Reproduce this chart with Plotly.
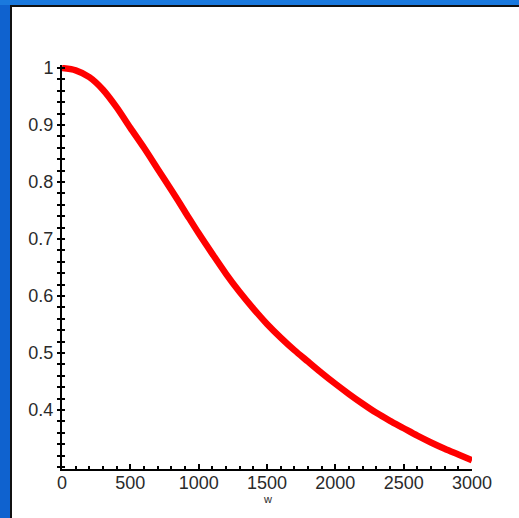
import plotly.graph_objects as go

# Sampled curve values
w = [0, 100, 200, 300, 400, 500, 600, 700, 800, 900, 1000,
     1100, 1200, 1300, 1400, 1500, 1600, 1700, 1800, 1900, 2000,
     2100, 2200, 2300, 2400, 2500, 2600, 2700, 2800, 2900, 3000]
response = [1.000, 0.996, 0.984, 0.962, 0.931, 0.895, 0.860, 0.823, 0.786, 0.748, 0.710,
            0.674, 0.639, 0.607, 0.578, 0.551, 0.527, 0.505, 0.485, 0.465, 0.446,
            0.428, 0.411, 0.395, 0.381, 0.368, 0.355, 0.343, 0.332, 0.322, 0.312]

x_ticks = [0, 500, 1000, 1500, 2000, 2500, 3000]
y_ticks = [0.4, 0.5, 0.6, 0.7, 0.8, 0.9, 1.0]
y_tick_text = ["0.4", "0.5", "0.6", "0.7", "0.8", "0.9", "1"]

W, H = 519, 518
L, R, T, B = 62, 47, 65, 49
PW, PH = W - L - R, H - T - B
Y_RANGE = [0.2965, 1.0053]


def px(x):
    return (x - L) / PW


def py(y):
    return (H - B - y) / PH


fig = go.Figure()
fig.add_trace(go.Scatter(
    x=w, y=response, mode="lines",
    line=dict(color="#ff0000", width=6.5, shape="spline", smoothing=0.8),
    cliponaxis=False, showlegend=False, hoverinfo="skip",
))
# hidden copy on the overlay axis so its inner tick marks are drawn
fig.add_trace(go.Scatter(
    x=w, y=response, yaxis="y2", mode="lines", opacity=0,
    line=dict(width=0), showlegend=False, hoverinfo="skip",
))

font = dict(family="Liberation Sans, Arial, sans-serif", size=18, color="#2a2a2a")

fig.update_layout(
    width=W, height=H,
    margin=dict(l=L, r=R, t=T, b=B, pad=0),
    paper_bgcolor="white", plot_bgcolor="white",
    showlegend=False,
    xaxis=dict(
        range=[0, 3000], tickvals=x_ticks, ticktext=[str(v) for v in x_ticks],
        showgrid=False, zeroline=False,
        showline=True, linecolor="black", linewidth=2,
        ticks="inside", ticklen=5, tickwidth=1.5, tickcolor="black",
        minor=dict(dtick=100, tick0=0, ticks="inside", ticklen=3, tickwidth=1.5,
                   tickcolor="black", showgrid=False),
        tickfont=font, ticklabelstandoff=-4,
    ),
    yaxis=dict(
        range=Y_RANGE, tickvals=y_ticks, ticktext=y_tick_text,
        showgrid=False, zeroline=False,
        showline=True, linecolor="black", linewidth=2,
        ticks="outside", ticklen=3, tickwidth=1.5, tickcolor="black",
        minor=dict(dtick=0.02, tick0=0, ticks="outside", ticklen=3, tickwidth=1.5,
                   tickcolor="black", showgrid=False),
        tickfont=font,
    ),
    yaxis2=dict(
        range=Y_RANGE, overlaying="y", side="left",
        tickvals=y_ticks, showticklabels=False,
        showgrid=False, zeroline=False, showline=False,
        ticks="inside", ticklen=3, tickwidth=1.5, tickcolor="black",
        minor=dict(dtick=0.02, tick0=0, ticks="inside", ticklen=3, tickwidth=1.5,
                   tickcolor="black", showgrid=False),
    ),
)

fig.add_annotation(text="w", xref="paper", yref="paper",
                   x=0.5, y=py(499), xanchor="center", yanchor="middle",
                   showarrow=False,
                   font=dict(family="Liberation Sans, Arial, sans-serif",
                             size=11, color="#2a2a2a"))

# Window frame: blue border on the left and top with a dark edge
frame = [
    dict(x0=0, x1=10, y0=0, y1=H, color="#0f62cf"),
    dict(x0=0, x1=W, y0=0, y1=5, color="#1a79de"),
    dict(x0=10, x1=12, y0=5, y1=H, color="#111111"),
    dict(x0=10, x1=W, y0=5, y1=7, color="#111111"),
]
for f in frame:
    fig.add_shape(type="rect", xref="paper", yref="paper",
                  x0=px(f["x0"]), x1=px(f["x1"]), y0=py(f["y1"]), y1=py(f["y0"]),
                  fillcolor=f["color"], line=dict(width=0), layer="above")

fig.write_html("out.html")
